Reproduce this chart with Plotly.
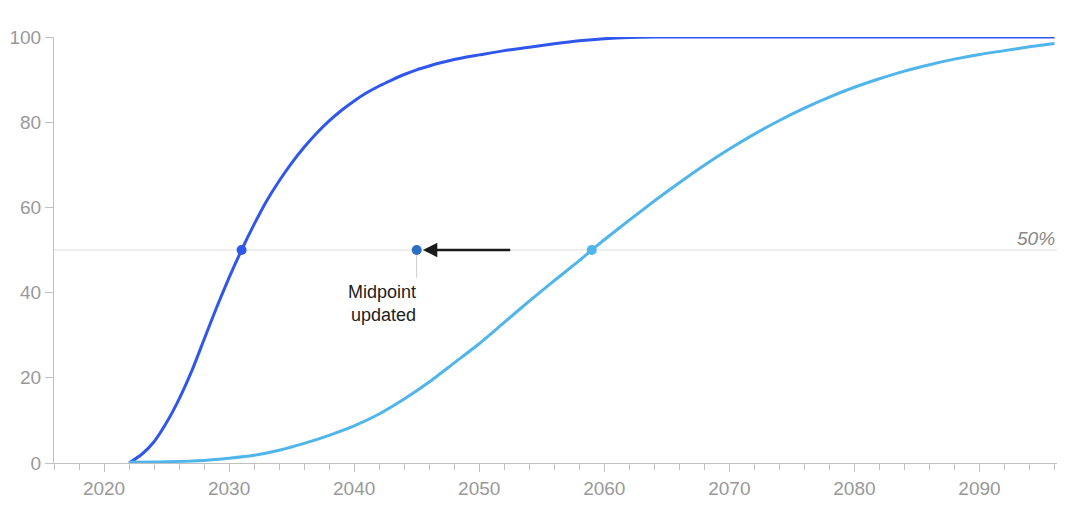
"""Adoption S-curves with midpoint shift annotation."""

import plotly.graph_objects as go

# dark blue series (fast adoption)
fast_years = [2022, 2023, 2024, 2025, 2026, 2027, 2028, 2029, 2030, 2031, 2032, 2033,
              2034, 2035, 2036, 2037, 2038, 2039, 2040, 2041, 2042, 2043, 2044, 2045,
              2046, 2047, 2048, 2049, 2050, 2052, 2054, 2056, 2058, 2060, 2062, 2064, 2096]
fast_values = [0, 2, 5, 9.5, 15, 21.5, 29, 36.5, 43.5, 50, 56, 61.5,
               66.2, 70.4, 74.1, 77.4, 80.3, 82.8, 85, 86.9, 88.5, 89.9, 91.2, 92.3,
               93.2, 94, 94.7, 95.3, 95.8, 96.8, 97.6, 98.4, 99.1, 99.6, 99.9, 100, 100]

# light blue series (slow adoption)
slow_years = [2022, 2025, 2028, 2030, 2032, 2034, 2036, 2038, 2040, 2042, 2044, 2046,
              2048, 2050, 2052, 2054, 2056, 2058, 2059, 2060, 2062, 2064, 2066, 2068,
              2070, 2072, 2074, 2076, 2078, 2080, 2082, 2084, 2086, 2088, 2090, 2092,
              2094, 2096]
slow_values = [0.2, 0.3, 0.6, 1.1, 1.8, 3, 4.6, 6.5, 8.7, 11.5, 15, 19,
               23.5, 28, 33, 38, 42.8, 47.5, 50, 52.4, 57, 61.5, 65.8, 69.9,
               73.7, 77.2, 80.4, 83.3, 85.9, 88.2, 90.2, 92, 93.5, 94.8, 95.9, 96.8,
               97.7, 98.5]

# midpoints
fast_mid = (2031, 50)
slow_mid = (2059, 50)
updated_mid = (2045, 50)
arrow_tail_x = 2052.6

DARK = "#2f57ec"
LIGHT = "#4fb5ea"
MID = "#2a6fc0"
GRAY = "#999999"
FONT = "Liberation Sans, Arial, sans-serif"

fig = go.Figure()
fig.add_shape(type="line", x0=2016, x1=2096.2, y0=50, y1=50, xref="x", yref="y",
              line=dict(color="#dddddd", width=1.2), layer="below")
fig.add_shape(type="line", x0=updated_mid[0], x1=updated_mid[0], y0=50, y1=43.5,
              xref="x", yref="y", line=dict(color="#cccccc", width=1), layer="below")

fig.add_trace(go.Scatter(x=fast_years, y=fast_values, mode="lines",
                         line=dict(color=DARK, width=3, shape="spline", smoothing=0.6),
                         hoverinfo="skip"))
fig.add_trace(go.Scatter(x=slow_years, y=slow_values, mode="lines",
                         line=dict(color=LIGHT, width=3, shape="spline", smoothing=0.6),
                         hoverinfo="skip"))
fig.add_trace(go.Scatter(x=[fast_mid[0]], y=[fast_mid[1]], mode="markers",
                         marker=dict(color=DARK, size=10)))
fig.add_trace(go.Scatter(x=[slow_mid[0]], y=[slow_mid[1]], mode="markers",
                         marker=dict(color=LIGHT, size=10)))
fig.add_trace(go.Scatter(x=[updated_mid[0]], y=[updated_mid[1]], mode="markers",
                         marker=dict(color=MID, size=10)))

fig.add_annotation(x=updated_mid[0] + 0.5, y=50, ax=arrow_tail_x, ay=50,
                   xref="x", yref="y", axref="x", ayref="y", text="",
                   showarrow=True, arrowhead=2, arrowsize=1.2, arrowwidth=2.4,
                   arrowcolor="#1a1a1a")
fig.add_annotation(x=updated_mid[0] + 0.1, y=43, xref="x", yref="y",
                   text="Midpoint<br>updated", showarrow=False,
                   xanchor="right", yanchor="top", align="right",
                   font=dict(family=FONT, size=18, color="#222222"))
fig.add_annotation(x=2096.2, y=50, xref="x", yref="y", text="<i>50%</i>",
                   showarrow=False, xanchor="right", yanchor="bottom", yshift=-1,
                   font=dict(family=FONT, size=19, color="#888888"))

fig.update_layout(
    width=1080, height=506, showlegend=False,
    plot_bgcolor="white", paper_bgcolor="white",
    margin=dict(l=46, r=31, t=29, b=51),
    font=dict(family=FONT, size=19, color=GRAY),
    xaxis=dict(range=[2016, 2096.2], dtick=10, tick0=2020, showgrid=False,
               zeroline=False, showline=True, linecolor="#c0c0c0", linewidth=1,
               ticks="outside", ticklen=8, tickcolor="#c0c0c0", automargin=False,
               minor=dict(dtick=2, tick0=2016, ticks="outside", ticklen=6,
                          tickcolor="#c0c0c0", showgrid=False),
               tickfont=dict(size=19, color=GRAY)),
    yaxis=dict(range=[0, 100], dtick=20, showgrid=False, zeroline=False,
               showline=True, linecolor="#c0c0c0", linewidth=1, automargin=False,
               ticks="outside", ticklen=8, tickcolor="#c0c0c0",
               tickfont=dict(size=19, color=GRAY)),
)

fig.write_html("out.html")
